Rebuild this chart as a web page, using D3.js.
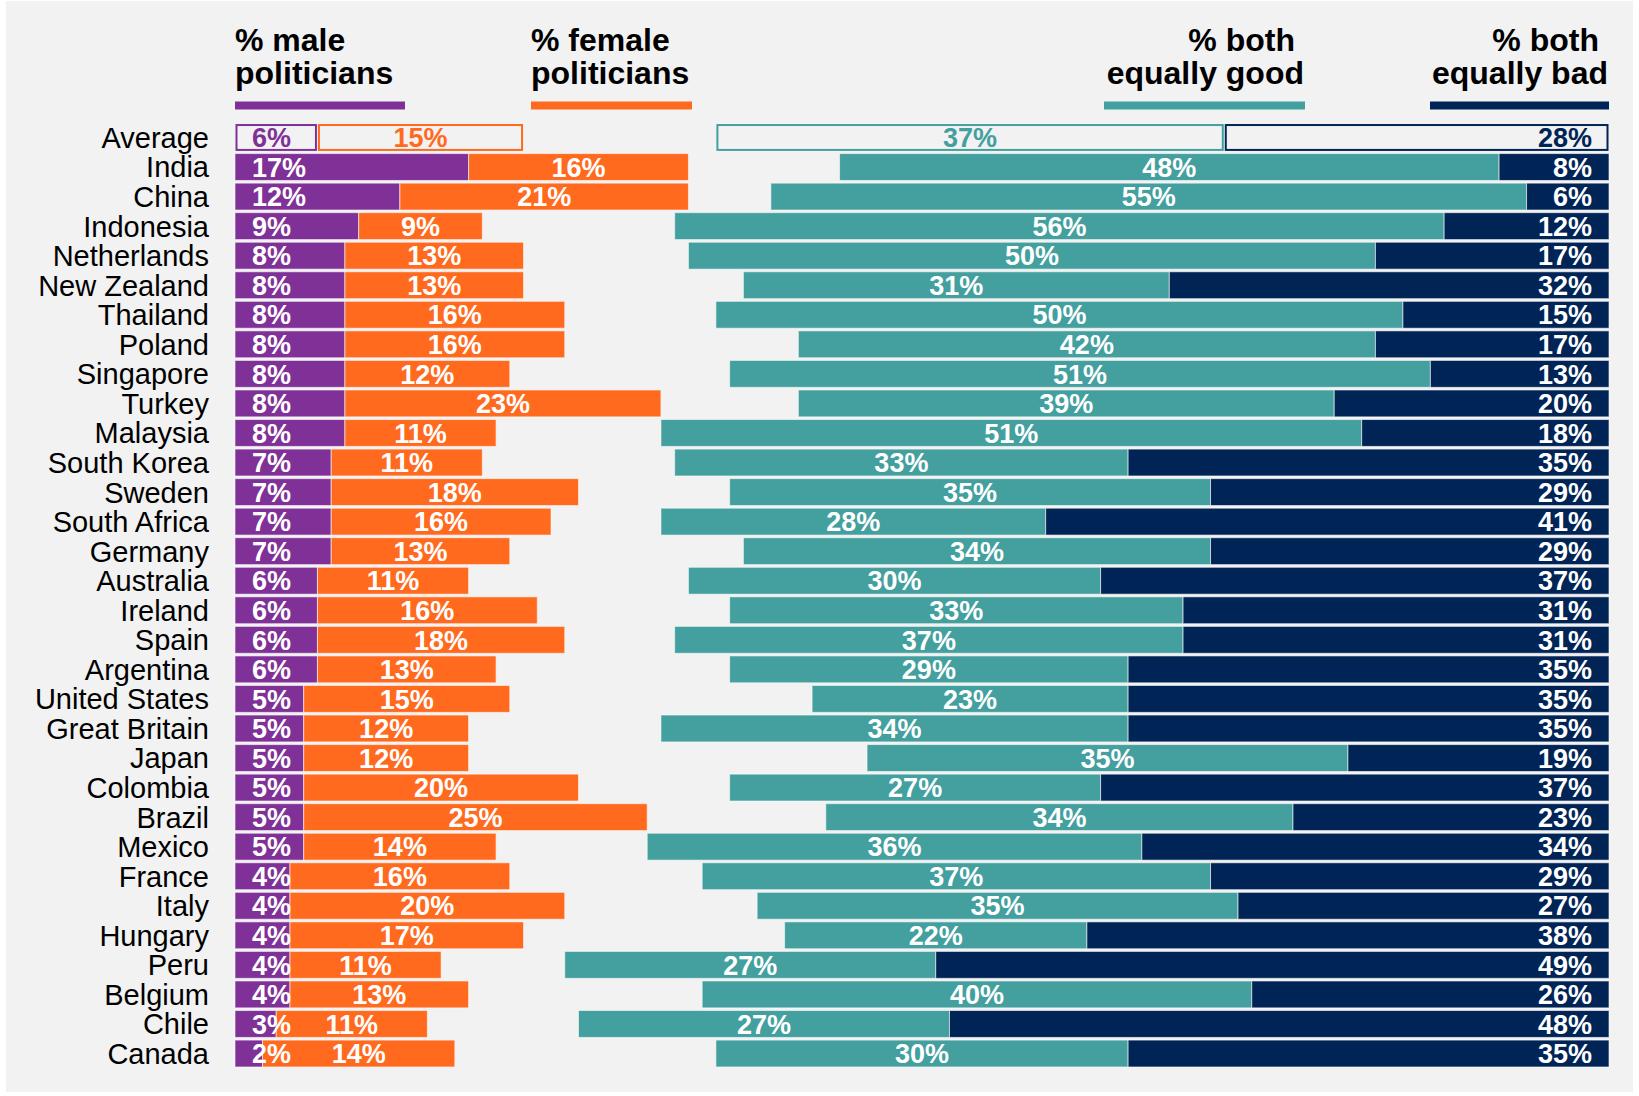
<!DOCTYPE html>
<meta charset="utf-8">
<style type="text/css">
    body{
      margin: 0;
      background: #fff;
    }
    text {
      font-family: "Liberation Sans", Arial, sans-serif;
    }
    svg{
      display: block;
    }
</style>
<body>
<script src="https://d3js.org/d3.v7.min.js"></script>
<script>

//rows, top to bottom. first row is the average
var countries = ["Average", "India", "China", "Indonesia", "Netherlands", "New Zealand", "Thailand",
  "Poland", "Singapore", "Turkey", "Malaysia", "South Korea", "Sweden", "South Africa", "Germany",
  "Australia", "Ireland", "Spain", "Argentina", "United States", "Great Britain", "Japan",
  "Colombia", "Brazil", "Mexico", "France", "Italy", "Hungary", "Peru", "Belgium", "Chile", "Canada"];

var male   = [6, 17, 12, 9, 8, 8, 8, 8, 8, 8, 8, 7, 7, 7, 7, 6, 6, 6, 6, 5, 5, 5, 5, 5, 5, 4, 4, 4, 4, 4, 3, 2];
var female = [15, 16, 21, 9, 13, 13, 16, 16, 12, 23, 11, 11, 18, 16, 13, 11, 16, 18, 13, 15, 12, 12, 20, 25, 14, 16, 20, 17, 11, 13, 11, 14];
var good   = [37, 48, 55, 56, 50, 31, 50, 42, 51, 39, 51, 33, 35, 28, 34, 30, 33, 37, 29, 23, 34, 35, 27, 34, 36, 37, 35, 22, 27, 40, 27, 30];
var bad    = [28, 8, 6, 12, 17, 32, 15, 17, 13, 20, 18, 35, 29, 41, 29, 37, 31, 31, 35, 35, 35, 19, 37, 23, 34, 29, 27, 38, 49, 26, 48, 35];

var colors = ["#7f3198", "#ff6a1f", "#43a09f", "#002455"];

var width = 1639, height = 1096;

var svg = d3.select("body")
  .append("svg")
  .attr("width", width)
  .attr("height", height);

//grey panel
svg.append("rect")
  .attr("x", 6).attr("y", 1)
  .attr("width", 1627).attr("height", 1091)
  .attr("fill", "#f2f2f2");

//left side grows from the left edge, right side from the right edge
var left0 = 235, right0 = 1609;
var x = d3.scaleLinear().domain([0, 100]).range([0, 1374]);

var y = d3.scaleBand()
  .domain(countries)
  .range([122.7, 1068.3])
  .paddingInner(0.09)
  .paddingOuter(0.045);

var rows = countries.map(function(c, i){
  return {name: c, male: male[i], female: female[i], good: good[i], bad: bad[i], avg: i == 0};
});

//country names
svg.append("g").selectAll("text")
  .data(rows)
  .enter().append("text")
  .attr("x", 209)
  .attr("y", function(d){ return y(d.name) + y.bandwidth() / 2; })
  .attr("dy", "0.36em")
  .attr("text-anchor", "end")
  .style("font-size", "29px")
  .attr("fill", "#000")
  .text(function(d){ return d.name; });

//segments per row
var segs = [];
rows.forEach(function(d){
  var totalRight = d.good + d.bad;
  segs.push({row: d, k: 0, v: d.male, x0: left0, x1: left0 + x(d.male), anchor: "start", lx: left0 + 17});
  segs.push({row: d, k: 1, v: d.female, x0: left0 + x(d.male), x1: left0 + x(d.male + d.female), anchor: "middle"});
  segs.push({row: d, k: 2, v: d.good, x0: right0 - x(totalRight), x1: right0 - x(d.bad), anchor: "middle"});
  segs.push({row: d, k: 3, v: d.bad, x0: right0 - x(d.bad), x1: right0, anchor: "end", lx: right0 - 17});
});

var bars = svg.append("g");

bars.selectAll("rect")
  .data(segs)
  .enter().append("rect")
  .attr("x", function(d){ return d.row.avg ? d.x0 + 1.5 : d.x0; })
  .attr("y", function(d){ return d.row.avg ? y(d.row.name) + 1 : y(d.row.name); })
  .attr("width", function(d){ return d.row.avg ? d.x1 - d.x0 - 3 : d.x1 - d.x0; })
  .attr("height", function(d){ return d.row.avg ? y.bandwidth() - 2 : y.bandwidth(); })
  .attr("fill", function(d){ return d.row.avg ? "#f2f2f2" : colors[d.k]; })
  .attr("stroke", function(d){ return d.row.avg ? colors[d.k] : "#fbfbfb"; })
  .attr("stroke-opacity", function(d){ return d.row.avg ? 1 : 0.6; })
  .attr("stroke-width", function(d){ return d.row.avg ? 2 : 1; });

bars.selectAll("text")
  .data(segs)
  .enter().append("text")
  .attr("x", function(d){ return d.lx !== undefined ? d.lx : (d.x0 + d.x1) / 2; })
  .attr("y", function(d){ return y(d.row.name) + y.bandwidth() / 2; })
  .attr("dy", "0.36em")
  .attr("text-anchor", function(d){ return d.anchor; })
  .style("font-size", "27px")
  .style("font-weight", "bold")
  .attr("fill", function(d){ return d.row.avg ? colors[d.k] : "#fff"; })
  .text(function(d){ return d.v + "%"; });

//legend headers with a coloured rule under each
var legend = [
  {lines: ["% male", "politicians"], x: 235, anchor: "start", r0: 235, r1: 405},
  {lines: ["% female", "politicians"], x: 531, anchor: "start", r0: 531, r1: 692},
  {lines: ["% both", "equally good"], x: 1304, anchor: "end", r0: 1104, r1: 1305},
  {lines: ["% both", "equally bad"], x: 1608, anchor: "end", r0: 1430, r1: 1609}
];

legend.forEach(function(l, i){
  l.lines.forEach(function(line, j){
    svg.append("text")
      .attr("x", l.anchor == "end" && j == 0 ? l.x - 9 : l.x)
      .attr("y", 51 + j * 33)
      .attr("text-anchor", l.anchor)
      .style("font-size", "32px")
      .style("font-weight", "bold")
      .attr("fill", "#000")
      .text(line);
  });

  svg.append("rect")
    .attr("x", l.r0)
    .attr("y", 101.5)
    .attr("width", l.r1 - l.r0)
    .attr("height", 8)
    .attr("fill", colors[i]);
});

</script>
</body>
